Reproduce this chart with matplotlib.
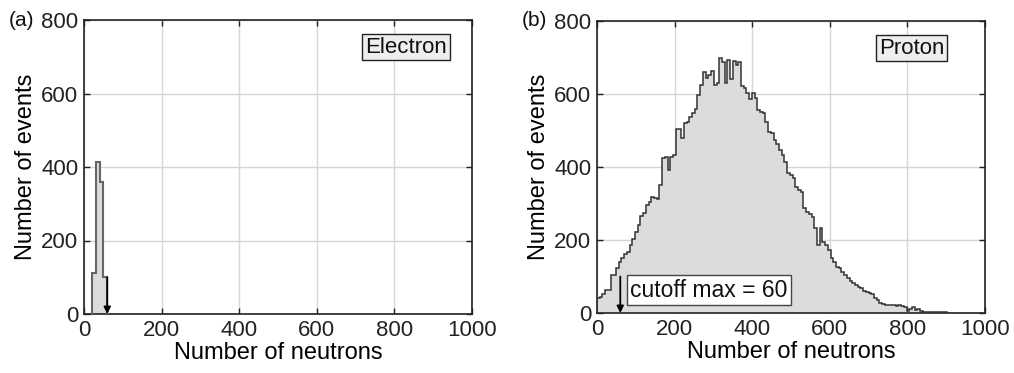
import numpy as np
import matplotlib
matplotlib.use("Agg")
import matplotlib.pyplot as plt

plt.rcParams['font.family'] = ['Liberation Sans', 'DejaVu Sans']

# ---- data ----
electron_edges = [20, 30, 40, 50, 60]
electron_counts = [111, 414, 359, 100]

proton_bin_width = 7
proton_counts = [
    42, 45, 51, 63, 63, 104, 104, 122, 141, 150,
    162, 167, 186, 203, 222, 241, 265, 273, 296, 305,
    319, 315, 312, 351, 424, 428, 392, 428, 433, 504,
    504, 480, 520, 524, 538, 548, 558, 597, 625, 659,
    643, 651, 662, 625, 630, 700, 689, 629, 693, 640,
    690, 679, 689, 622, 616, 602, 585, 602, 590, 556,
    551, 547, 524, 497, 493, 474, 462, 447, 433, 415,
    383, 378, 369, 346, 337, 332, 288, 277, 270, 262,
    232, 186, 232, 195, 186, 173, 150, 141, 127, 122,
    113, 104, 97, 88, 81, 77, 72, 68, 60, 58,
    56, 51, 40, 36, 27, 24, 22, 22, 21, 21,
    20, 21, 18, 16, 6, 12, 16, 8, 12, 6,
    4, 4, 3, 3, 2, 2, 2, 2, 2, 1,
]
proton_edges = np.arange(len(proton_counts) + 1) * proton_bin_width

cutoff = 60
cutoff_top = 100
xticks = [0, 200, 400, 600, 800, 1000]
yticks = [0, 200, 400, 600, 800]
panel_labels = ['(a)', '(b)']
particle_labels = ['Electron', 'Proton']

fig = plt.figure(figsize=(10.14, 3.73), dpi=100)
axA = fig.add_axes([84/1014, 1-314/373, 388/1014, 294/373])
axB = fig.add_axes([597/1014, 1-313/373, 388/1014, 292/373])

FS_TICK = 16
FS_LAB = 17
FS_BOX = 16

def style(ax, label, plabel):
    ax.set_xlim(0, 1000)
    ax.set_ylim(0, 800)
    ax.set_xticks(xticks)
    ax.set_yticks(yticks)
    ax.grid(True, color='#d6d6d6', lw=1.0)
    ax.set_axisbelow(True)
    ax.tick_params(direction='in', top=True, right=True, length=4, width=1,
                   labelsize=FS_TICK, colors='#222222', pad=4)
    for s in ax.spines.values():
        s.set_color('#222222')
        s.set_linewidth(1.2)
    ax.set_xlabel('Number of neutrons', fontsize=FS_LAB, labelpad=1)
    ax.set_ylabel('Number of events', fontsize=FS_LAB, labelpad=3)
    ax.text(830 if plabel == 'Electron' else 811, 726, plabel, fontsize=FS_BOX,
            ha='center', va='center', color='#111111',
            bbox=dict(boxstyle='square,pad=0.12', fc='#eeeeee', ec='#222222', lw=1.0))
    ax.text(-0.195, 1.0, label, transform=ax.transAxes, fontsize=15,
            ha='left', va='center', color='#111111')

axA.stairs(electron_counts, electron_edges, fill=True, color='#dcdcdc', zorder=2)
axA.stairs(electron_counts, electron_edges, color='#666666', lw=1.5, zorder=3,
           baseline=0)
axB.stairs(proton_counts, proton_edges, fill=True, color='#dcdcdc', zorder=2)
axB.stairs(proton_counts, proton_edges, color='#333333', lw=1.1, zorder=3)

for ax in (axA, axB):
    ax.annotate('', xy=(cutoff, 0), xytext=(cutoff, cutoff_top),
                arrowprops=dict(arrowstyle='-|>', color='black', lw=1.3,
                                mutation_scale=10, shrinkA=0, shrinkB=0),
                zorder=5)

style(axA, panel_labels[0], particle_labels[0])
style(axB, panel_labels[1], particle_labels[1])

axB.text(86, 63, 'cutoff max = 60', fontsize=16.5, ha='left', va='center',
         color='#111111', zorder=6,
         bbox=dict(boxstyle='square,pad=0.15', fc='white', ec='#444444', lw=1.0))

fig.savefig('out.png', dpi=100)
